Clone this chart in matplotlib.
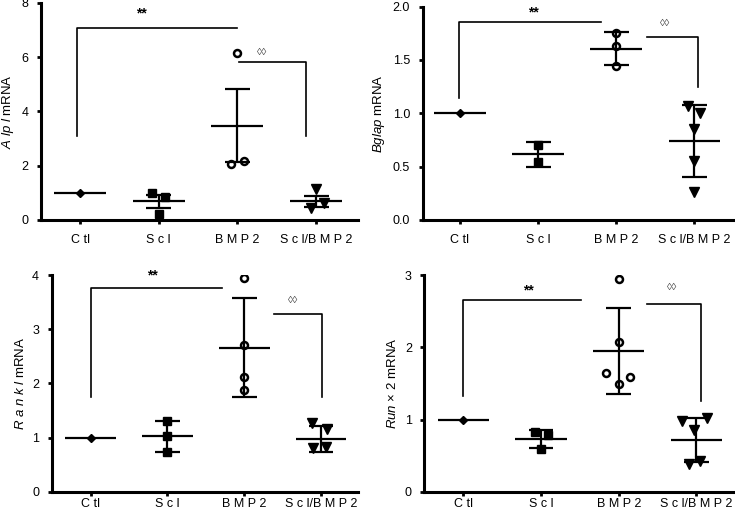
import numpy as np
import matplotlib
matplotlib.use("Agg")
import matplotlib.pyplot as plt

plt.rcParams['font.family'] = ['Liberation Sans', 'DejaVu Sans']
plt.rcParams['mathtext.fontset'] = 'custom'
plt.rcParams['mathtext.rm'] = 'Liberation Sans'
plt.rcParams['mathtext.it'] = 'Liberation Sans:italic'

groups = ["C tl", "S c l", "B M P 2", "S c l/B M P 2"]

# Alpl
alpl_pts = [[1.0], [1.0, 0.85, 0.22], [6.15, 2.05, 2.19], [1.13, 0.62, 0.43]]
alpl_off = [[0], [-0.08, 0.08, 0.0], [0.0, -0.08, 0.08], [0.0, 0.1, -0.06]]
alpl_mean = [1.0, 0.69, 3.47, 0.69]
alpl_lo = [None, 0.45, 2.13, 0.49]
alpl_hi = [None, 0.93, 4.82, 0.89]

# Bglap
bglap_pts = [[1.0], [0.70, 0.54], [1.75, 1.63, 1.44], [1.07, 1.0, 0.85, 0.55, 0.26]]
bglap_off = [[0], [0.0, 0.0], [0.0, 0.0, 0.0], [-0.08, 0.07, 0.0, 0.0, 0.0]]
bglap_mean = [1.0, 0.62, 1.60, 0.74]
bglap_lo = [None, 0.50, 1.45, 0.40]
bglap_hi = [None, 0.73, 1.76, 1.08]

# Rankl
rankl_pts = [[1.0], [1.31, 1.03, 0.74], [3.94, 2.71, 2.12, 1.88], [1.26, 1.16, 0.80, 0.83]]
rankl_off = [[0], [0.0, 0.0, 0.0], [0.0, 0.0, 0.0, 0.0], [-0.12, 0.08, -0.1, 0.07]]
rankl_mean = [1.0, 1.03, 2.66, 0.98]
rankl_lo = [None, 0.74, 1.74, 0.74]
rankl_hi = [None, 1.31, 3.57, 1.22]

# Runx2
runx_pts = [[1.0], [0.83, 0.79, 0.59], [2.95, 2.07, 1.65, 1.59, 1.49], [0.98, 1.02, 0.85, 0.39, 0.43]]
runx_off = [[0], [-0.08, 0.09, 0.0], [0.0, 0.0, -0.16, 0.15, 0.0], [-0.18, 0.13, -0.03, -0.1, 0.05]]
runx_mean = [1.0, 0.73, 1.95, 0.71]
runx_lo = [None, 0.60, 1.35, 0.41]
runx_hi = [None, 0.85, 2.55, 1.02]

# brackets: br1 = (x_left, y_bottom, y_top, x_right), br2 = (x_left, y_top, x_right, y_bottom)
panels = [
    dict(pts=alpl_pts, off=alpl_off, mean=alpl_mean, lo=alpl_lo, hi=alpl_hi,
         label=r'$\mathit{A\ lp\ l}$ mRNA', ylim=8, yticks=[0, 2, 4, 6, 8], fmt='%d',
         pos=[0.0558, 0.5745, 0.431, 0.4197], xlim=(-0.496, 3.53), xpad=7,
         br1=(-0.04, 3.08, 7.09, 2.0), star=(0.78, 7.63),
         br2=(2.02, 5.82, 2.87, 3.08), dia=(2.31, 6.2)),
    dict(pts=bglap_pts, off=bglap_off, mean=bglap_mean, lo=bglap_lo, hi=bglap_hi,
         label=r'$\mathit{Bglap}$ mRNA', ylim=2, yticks=[0, 0.5, 1.0, 1.5, 2.0], fmt='%.1f',
         pos=[0.575, 0.5745, 0.422, 0.4126], xlim=(-0.476, 3.49), xpad=7,
         br1=(-0.01, 1.14, 1.86, 1.81), star=(0.94, 1.95),
         br2=(2.39, 1.72, 3.05, 1.25), dia=(2.62, 1.85)),
    dict(pts=rankl_pts, off=rankl_off, mean=rankl_mean, lo=rankl_lo, hi=rankl_hi,
         label=r'$\mathit{R\ a\ n\ k\ l}$ mRNA', ylim=4, yticks=[0, 1, 2, 3, 4], fmt='%d',
         pos=[0.0703, 0.0489, 0.4167, 0.419], xlim=(-0.508, 3.48), xpad=1.5,
         br1=(0.0, 1.75, 3.77, 1.71), star=(0.8, 4.0),
         br2=(2.39, 3.29, 3.01, 1.75), dia=(2.64, 3.54)),
    dict(pts=runx_pts, off=runx_off, mean=runx_mean, lo=runx_lo, hi=runx_hi,
         label=r'$\mathit{Run}$ × 2 mRNA', ylim=3, yticks=[0, 1, 2, 3], fmt='%d',
         pos=[0.5773, 0.0489, 0.42, 0.419], xlim=(-0.50, 3.47), xpad=1.5,
         br1=(0.0, 1.32, 2.65, 1.52), star=(0.84, 2.79),
         br2=(2.37, 2.6, 3.06, 1.25), dia=(2.68, 2.84)),
]

markers = [dict(marker='D', ms=4, mfc='black', mec='black', mew=1),
           dict(marker='s', ms=5.5, mfc='black', mec='black', mew=1),
           dict(marker='o', ms=5, mfc='white', mec='black', mew=1.8),
           dict(marker='v', ms=6.5, mfc='black', mec='black', mew=1)]

fig = plt.figure(figsize=(7.35, 5.17), dpi=100)

for p in panels:
    ax = fig.add_axes(p['pos'])
    for i in range(4):
        xs = [i + o for o in p['off'][i]]
        ax.plot(xs, p['pts'][i], linestyle='none', zorder=3, **markers[i])
        ax.hlines(p['mean'][i], i - 0.33, i + 0.33, color='black', lw=1.6, zorder=4)
        if p['lo'][i] is not None:
            ax.vlines(i, p['lo'][i], p['hi'][i], color='black', lw=1.6, zorder=4)
            ax.hlines([p['lo'][i], p['hi'][i]], i - 0.16, i + 0.16, color='black', lw=1.6, zorder=4)

    x0, yb, yt, x1 = p['br1']
    ax.plot([x0, x0, x1], [yb, yt, yt], color='black', lw=1.2, clip_on=False)
    ax.text(p['star'][0], p['star'][1], '**', ha='center', va='center', fontsize=10, fontweight='bold')
    x0, yt, x1, yb = p['br2']
    ax.plot([x0, x1, x1], [yt, yt, yb], color='black', lw=1.2, clip_on=False)
    ax.text(p['dia'][0], p['dia'][1], '◊◊', ha='center', va='center', fontsize=7.5, color='#444444')

    ax.set_xlim(*p['xlim'])
    ax.set_ylim(0, p['ylim'])
    ax.set_xticks(range(4))
    ax.set_xticklabels(groups, fontsize=9)
    ax.set_yticks(p['yticks'])
    ax.set_yticklabels([p['fmt'] % v for v in p['yticks']], fontsize=9)
    ax.set_ylabel(p['label'], fontsize=9.5)
    for s in ['top', 'right']:
        ax.spines[s].set_visible(False)
    for s in ['left', 'bottom']:
        ax.spines[s].set_linewidth(2.2)
    ax.tick_params(width=2, length=3, direction='out')
    ax.tick_params(axis='x', pad=p['xpad'])
    ax.tick_params(axis='y', pad=6)

fig.savefig('out.png', dpi=100)
